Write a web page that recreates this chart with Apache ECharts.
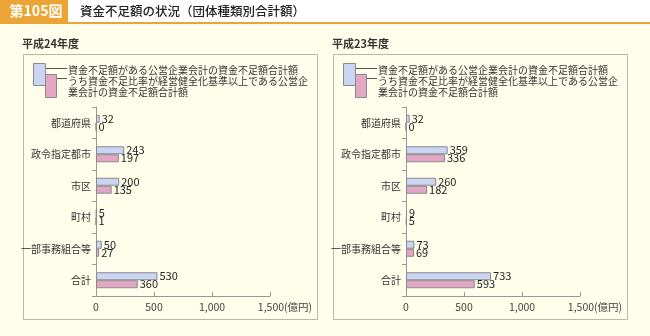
<!DOCTYPE html>
<html><head><meta charset="utf-8">
<script src="https://cdn.jsdelivr.net/npm/echarts@6/dist/echarts.min.js"></script>
<style>html,body{margin:0;padding:0;background:#FFFEEA;}#c{width:650px;height:336px;}</style>
</head><body><div id="c"></div>
<script>
const categories = ['都道府県','政令指定都市','市区','町村','一部事務組合等','合計'];
const h24Total = [32,243,200,5,50,530];
const h24Sub = [0,197,135,1,27,360];
const h23Total = [32,359,260,9,73,733];
const h23Sub = [0,336,182,5,69,593];
const xTicks = [0,500,1000,1500];
const panelTitles = ['平成24年度','平成23年度'];
const legendLines = ['資金不足額がある公営企業会計の資金不足額合計額','うち資金不足比率が経営健全化基準以上である公営企','業会計の資金不足額合計額'];

const FONT = '"Noto Sans CJK JP", sans-serif';
const BLUE = '#C9D5F2', PINK = '#E3A6C5', EDGE = '#8a8a8a';
const chart = echarts.init(document.getElementById('c'), null, {renderer:'canvas'});

function panelGraphics(dx, title){
  const g = [];
  g.push({type:'rect', shape:{x:23.5+dx,y:54.5,width:294,height:265}, style:{fill:null,stroke:'#b8b8a8',lineWidth:1}});
  g.push({type:'text', x:22+dx, y:44, style:{text:title, font:'bold 11px '+FONT, fill:'#333', verticalAlign:'middle'}});
  g.push({type:'rect', shape:{x:33.5+dx,y:63.5,width:12,height:22}, style:{fill:BLUE,stroke:EDGE,lineWidth:1}});
  g.push({type:'rect', shape:{x:45.5+dx,y:74.5,width:11,height:23}, style:{fill:PINK,stroke:EDGE,lineWidth:1}});
  g.push({type:'line', shape:{x1:46+dx,y1:68.5,x2:67+dx,y2:68.5}, style:{stroke:'#555',lineWidth:1}});
  g.push({type:'line', shape:{x1:57+dx,y1:78.5,x2:67+dx,y2:78.5}, style:{stroke:'#555',lineWidth:1}});
  legendLines.forEach((t,i)=>{
    g.push({type:'text', x:68+dx, y:70+i*11.2, style:{text:t, font:'10px '+FONT, fill:'#333', verticalAlign:'middle'}});
  });
  return g;
}

const graphics = [
  {type:'rect', shape:{x:0,y:0,width:68,height:22}, style:{fill:'#EBA537'}},
  {type:'rect', shape:{x:70,y:0,width:580,height:22}, style:{fill:'#FFFFFF'}},
  {type:'rect', shape:{x:0,y:22,width:650,height:2}, style:{fill:'#EBA537'}},
  {type:'text', x:36, y:11, style:{text:'第105図', font:'bold 14px '+FONT, fill:'#fff', align:'center', verticalAlign:'middle'}},
  {type:'text', x:80, y:11, style:{text:'資金不足額の状況（団体種類別合計額）', font:'500 12.5px '+FONT, fill:'#222', verticalAlign:'middle'}},
  ...panelGraphics(0, panelTitles[0]),
  ...panelGraphics(310, panelTitles[1])
];

function xAxis(idx){
  return {gridIndex:idx, type:'value', min:xTicks[0], max:xTicks[xTicks.length-1], interval:500,
    axisLine:{show:true,lineStyle:{color:'#999'}}, axisTick:{show:true,inside:true,length:4,lineStyle:{color:'#999'}},
    splitLine:{show:false},
    axisLabel:{fontFamily:FONT, fontSize:10.5, color:'#444', margin:6,
      formatter:v => v===1500 ? '{a|1,500(億円)}' : v.toLocaleString('en-US'),
      rich:{a:{fontFamily:FONT,fontSize:10.5,color:'#444',padding:[0,0,0,30]}}}};
}
function yAxis(idx){
  return {gridIndex:idx, type:'category', data:categories, inverse:true,
    axisLine:{show:true,lineStyle:{color:'#999'}}, axisTick:{show:true,length:4,lineStyle:{color:'#999'}},
    axisLabel:{fontFamily:FONT,fontSize:10,color:'#333',margin:5}};
}
function bar(idx, data, color){
  return {type:'bar', xAxisIndex:idx, yAxisIndex:idx, data:data, barWidth:8, barGap:'0%',
    itemStyle:{color:color, borderColor:EDGE, borderWidth:1},
    label:{show:true, position:'right', distance:2, fontFamily:FONT, fontSize:11, color:'#222'},
    animation:false};
}

chart.setOption({
  backgroundColor:'#FFFEEA',
  animation:false,
  graphic:graphics,
  grid:[{left:96,top:107,width:174,height:189},{left:406,top:107,width:174,height:189}],
  xAxis:[xAxis(0),xAxis(1)],
  yAxis:[yAxis(0),yAxis(1)],
  series:[bar(0,h24Total,BLUE),bar(0,h24Sub,PINK),bar(1,h23Total,BLUE),bar(1,h23Sub,PINK)]
});
</script></body></html>
